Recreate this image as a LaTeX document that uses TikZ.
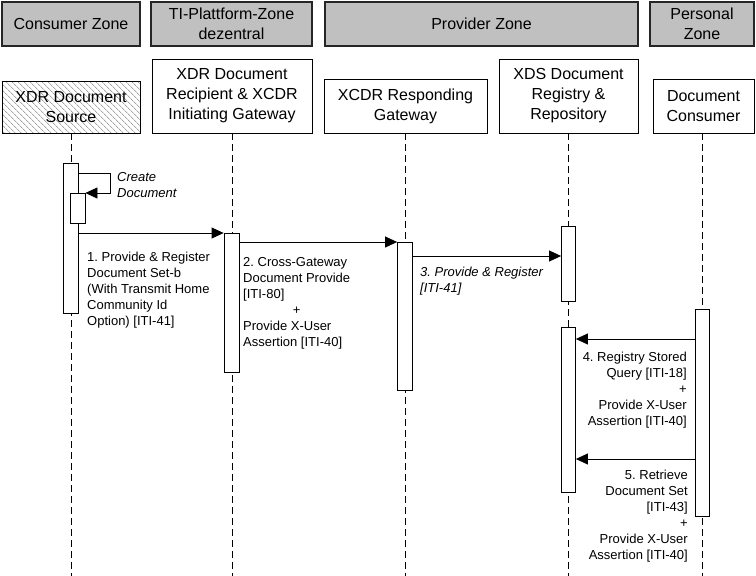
\documentclass[tikz,border=0pt]{standalone}
\usepackage{fontspec}
\setmainfont{Liberation Sans}
\usetikzlibrary{arrows.meta,patterns.meta}
\definecolor{zonegray}{HTML}{C0C0C0}
\newcommand\zonefont{\fontsize{16}{20}\selectfont}
\newcommand\lblfont{\fontsize{13}{16}\selectfont}
\frenchspacing
\begin{document}
\begin{tikzpicture}[x=1pt,y=-1pt,
  zone/.style={draw=black!85, line width=1.3pt, fill=zonegray, minimum height=44pt, inner sep=0pt, align=center, font=\zonefont},
  part/.style={draw=black, line width=0.8pt, fill=white, inner sep=0pt, align=center, font=\zonefont},
  life/.style={draw=black, line width=0.8pt, dash pattern=on 7pt off 4pt},
  act/.style={draw=black, line width=0.8pt, fill=white, minimum width=15pt, inner sep=0pt},
  msg/.style={draw=black, line width=0.8pt, -{Triangle[length=12pt,width=11pt]}},
  lbl/.style={inner sep=0pt, font=\lblfont}]
\useasboundingbox (0,0) rectangle (756,576);
% zones
\node[zone, minimum width=138pt] (z1) at (71,24) {Consumer Zone};
\node[zone, minimum width=161pt] (z2) at (231.5,24) {TI-Plattform-Zone\\dezentral};
\node[zone, minimum width=313pt] (z3) at (481.5,24) {Provider Zone};
\node[zone, minimum width=104pt] (z4) at (702,24) {Personal\\Zone};
% participants
\node[part, fill=none, pattern={Lines[angle=-45,distance=4pt,line width=0.6pt]}, pattern color=black!55, minimum width=138pt, minimum height=52pt] (src) at (71,107) {XDR Document\\Source};
\node[part, minimum width=160pt, minimum height=74pt] (rec) at (232,96) {XDR Document\\Recipient \& XCDR\\Initiating Gateway};
\node[part, minimum width=163pt, minimum height=54pt] (rgw) at (405.5,106) {XCDR Responding\\Gateway};
\node[part, minimum width=139pt, minimum height=74pt] (reg) at (568.5,96) {XDS Document\\Registry \&\\Repository};
\node[part, minimum width=101pt, minimum height=54pt] (con) at (703.5,106) {Document\\Consumer};
% lifelines
\coordinate (bot) at (0,576);
\draw[life] (src.south) -- (src.south |- bot);
\draw[life] (rec.south) -- (rec.south |- bot);
\draw[life] (rgw.south) -- (rgw.south |- bot);
\draw[life] (reg.south) -- (reg.south |- bot);
\draw[life] ([xshift=-1.5pt]con.south) -- ([xshift=-1.5pt]con.south |- bot);
% activations
\node[act, minimum height=150pt] (actS) at (70.5,238) {};
\node[act, minimum height=30pt] (actSS) at (77.5,208) {};
\node[act, minimum height=139pt] (actR) at (231.5,302.5) {};
\node[act, minimum height=148pt] (actG) at (405,316) {};
\node[act, minimum width=14pt, minimum height=75pt] (actD1) at (568.5,263.5) {};
\node[act, minimum width=14pt, minimum height=165pt] (actD2) at (568.5,409.5) {};
\node[act, minimum width=14pt, minimum height=207pt] (actC) at (702,412.5) {};
% messages
\coordinate (sm1) at (110,173);
\coordinate (sm2) at (110,193);
\draw[msg] (actS.east |- sm1) -- (sm1) -- (sm2) -- (actSS.east |- sm2);
\coordinate (m1) at (0,233);
\coordinate (m2) at (0,242);
\coordinate (m3) at (0,256);
\coordinate (m4) at (0,339);
\coordinate (m5) at (0,459);
\draw[msg] (actS.east |- m1) -- (actR.west |- m1);
\draw[msg] (actR.east |- m2) -- (actG.west |- m2);
\draw[msg] (actG.east |- m3) -- (actD1.west |- m3);
\draw[msg] (actC.west |- m4) -- (actD2.east |- m4);
\draw[msg] (actC.west |- m5) -- (actD2.east |- m5);
% labels
\node[lbl, font=\lblfont\itshape, anchor=base west] (lc) at (117,181) {\begin{tabular}[t]{@{}l@{}}Create\\Document\end{tabular}};
\node[lbl, anchor=base west] (l1) at (87,261) {\begin{tabular}[t]{@{}l@{}}1. Provide \& Register\\Document Set-b\\(With Transmit Home\\Community Id\\Option) [ITI-41]\end{tabular}};
\node[lbl, anchor=base west] (l2) at (243,266) {\begin{tabular}[t]{@{}l@{}}2. Cross-Gateway\\Document Provide\\{[ITI-80]}\\\multicolumn{1}{@{}c@{}}{+}\\Provide X-User\\Assertion [ITI-40]\end{tabular}};
\node[lbl, font=\lblfont\itshape, anchor=base west] (l3) at (420,276) {\begin{tabular}[t]{@{}l@{}}3. Provide \& Register\\{[ITI-41]}\end{tabular}};
\node[lbl, anchor=base east] (l4) at (687,361) {\begin{tabular}[t]{@{}r@{}}4. Registry Stored\\Query [ITI-18]\\+\\Provide X-User\\Assertion [ITI-40]\end{tabular}};
\node[lbl, anchor=base east] (l5) at (688,479) {\begin{tabular}[t]{@{}r@{}}5. Retrieve\\Document Set\\{[ITI-43]}\\+\\Provide X-User\\Assertion [ITI-40]\end{tabular}};
\end{tikzpicture}
\end{document}
